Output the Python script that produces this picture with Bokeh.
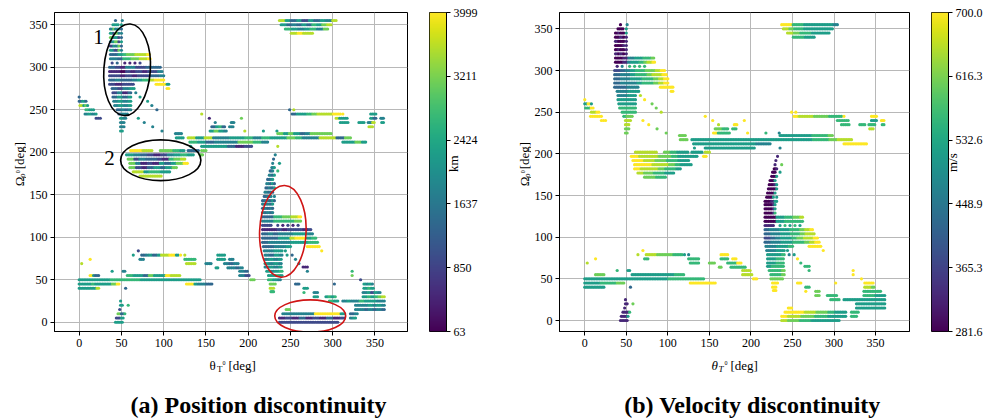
import numpy as np
from bokeh.plotting import figure
from bokeh.models import LinearColorMapper, FixedTicker, Label, Range1d, ColumnDataSource
from bokeh.layouts import row, column
from bokeh.palettes import Viridis256
from bokeh.embed import file_html
from bokeh.resources import INLINE
from bokeh.core.properties import value

# ---------------- data: rows of sampled (theta, Omega) solutions ----------------
# each entry: Omega row [deg], theta start/end [deg], colour levels (0=min .. 9=max)
OMEGA = [
    355, 350, 345, 340,
    355, 355, 350, 350, 345, 345, 340, 340, 335, 335, 330, 330, 325, 325, 320, 320,
    315, 310, 305, 305, 305, 305, 305, 305,
    300, 295, 290, 285, 280, 280, 275, 275, 270, 265, 260, 255, 250, 245, 240, 235, 230, 225,
    270, 265, 260, 255, 250, 240, 235, 230, 225,
    265, 260, 255, 250, 245, 240,
    245, 240, 235, 235, 240, 230, 230, 225, 225, 225, 225,
    250, 250, 245, 245, 245, 240, 240, 240, 235, 235, 235, 235, 230,
    222, 222, 217, 217, 212, 212, 207, 207, 207,
    202, 202, 202, 202, 197, 197, 192, 187, 182, 177, 172,
    197, 192, 187, 187, 182, 178, 178, 173, 168, 163,
    158, 153, 148, 148, 143, 139, 134, 129, 124, 119,
    114, 114, 114, 114, 114, 114,
    109, 104, 99, 94, 89, 89, 84, 84, 84, 79, 79, 79, 74, 74, 69, 69, 65, 65, 60, 60,
    55, 50, 45, 40, 36,
    84, 79, 79, 79, 79, 74, 74, 79, 74, 74,
    69, 69, 69, 64, 64, 60, 55, 50, 69, 74,
    60, 60, 55, 55, 50, 45, 45, 40, 40, 25,
    20, 20, 15, 10, 5, 0,
    45, 40, 35, 35, 30, 30, 25, 25, 45, 50,
    60, 55, 45, 40, 35, 30, 20, 15, 10, 5,
    15, 10, 5, 0,
]
THETA_FROM = [
    237, 239, 244, 251,
    43, 51, 40, 50, 37, 50, 37, 50, 37, 50, 37, 50, 37, 50, 37, 50,
    37, 37, 39, 45, 54, 60, 66, 72,
    36, 36, 36, 36, 36, 91, 39, 104, 40, 40, 41, 42, 45, 47, 49, 49, 49, 49,
    67, 72, 81, 86, 92, 70, 77, 87, 98,
    0, 0, 1, 8, 7, 20,
    145, 154, 161, 180, 192, 157, 178, 155, 196, 218, 234,
    249, 254, 252, 312, 345, 304, 345, 357, 309, 331, 342, 358, 343,
    114, 235, 115, 129, 131, 312, 132, 145, 235,
    61, 96, 129, 145, 56, 143, 58, 60, 60, 64, 72,
    232, 230, 229, 237, 228, 226, 235, 225, 223, 222,
    221, 220, 219, 231, 217, 217, 217, 217, 217, 217,
    217, 235, 241, 247, 253, 259,
    217, 217, 217, 217, 218, 270, 219, 244, 287, 220, 246, 252, 220, 256, 220, 260, 220, 265, 222, 270,
    224, 224, 226, 226, 227,
    70, 64, 74, 120, 125, 72, 125, 164, 164, 178,
    127, 150, 172, 162, 176, 190, 190, 203, 3, 13,
    39, 52, 13, 57, 0, 0, 127, 0, 55, 49,
    49, 58, 48, 46, 44, 43,
    256, 266, 266, 278, 278, 292, 296, 312, 302, 333,
    323, 323, 337, 337, 336, 336, 327, 327, 321, 321,
    245, 241, 237, 237,
]
THETA_TO = [
    304, 298, 294, 276,
    43, 51, 46, 50, 47, 50, 47, 50, 47, 50, 47, 50, 47, 50, 47, 50,
    83, 84, 39, 45, 54, 60, 66, 72,
    96, 98, 100, 100, 64, 106, 65, 106, 61, 61, 61, 61, 61, 57, 55, 53, 53, 51,
    67, 72, 81, 86, 92, 70, 77, 87, 98,
    0, 8, 10, 17, 20, 25,
    145, 154, 161, 183, 192, 172, 182, 174, 196, 218, 234,
    249, 254, 309, 312, 351, 317, 351, 360, 318, 337, 349, 360, 347,
    121, 298, 123, 321, 223, 339, 132, 204, 235,
    86, 124, 141, 150, 135, 146, 125, 128, 115, 107, 97,
    232, 230, 229, 237, 231, 229, 235, 231, 229, 231,
    231, 229, 227, 231, 231, 229, 229, 229, 262, 262,
    227, 235, 241, 247, 253, 259,
    274, 276, 280, 282, 250, 284, 240, 244, 287, 240, 246, 252, 239, 256, 239, 260, 239, 270, 240, 270,
    240, 238, 232, 230, 230,
    70, 64, 117, 120, 125, 76, 137, 172, 172, 182,
    137, 156, 188, 164, 193, 199, 201, 207, 3, 13,
    39, 54, 23, 119, 143, 47, 157, 23, 55, 49,
    51, 58, 48, 54, 52, 51,
    260, 270, 266, 282, 282, 303, 306, 361, 302, 333,
    323, 323, 347, 348, 356, 361, 361, 361, 329, 327,
    249, 314, 314, 306,
]
POS_LEVEL = [
    "8535253548", "5343536578", "6545647", "8988",
    "3", "4", "55", "5", "4745", "3", "5274", "4", "7452", "3", "4572", "5", "2547", "3", "5427", "4",
    "3356778889", "4436677889", "2", "3", "1", "1", "1", "2",
    "3214422333", "1102121224", "2212122334", "3433456899", "2122", "9995", "3245", "9", "2413", "3535",
    "4545", "4545", "3434", "344", "54", "4", "4", "5",
    "4", "5", "5", "4", "3", "5", "4", "4", "4",
    "3", "353", "8575", "6555", "4545", "2",
    "8", "1", "4", "4", "7", "3563", "4", "5754", "8", "5", "5",
    "3", "8", "3556788899", "9", "55", "8555", "53", "4", "5", "5", "48", "5", "8",
    "44", "7575347777", "55", "85844556465576448837", "6534447764", "5575", "5", "555312", "8",
    "9988", "7765", "33", "7", "5432124565", "7", "7243321678", "7412153579", "72135357", "8856655", "8888",
    "4", "3", "4", "5", "45", "34", "6", "435", "345", "4353",
    "3435", "4343", "3434", "4", "344353", "43435", "34343", "43434", "3336677889", "4446666677",
    "2", "2", "1", "2", "1", "2",
    "1112122212", "3434445554", "3335589956", "3444455566", "33445", "99", "4455", "5", "9", "4354",
    "5", "3", "4545", "4", "5454", "4", "4545", "1", "5456", "4",
    "5565", "654", "7", "8", "6",
    "2", "5", "3453588995", "9", "8", "44", "666", "55", "5", "4",
    "88", "4", "434", "5", "4434", "43", "42", "7", "8", "9",
    "5", "4", "9533", "6553755988", "5555666655555555", "5556555579", "9954433", "55558", "3", "5",
    "5", "6", "2", "736", "25", "555",
    "3", "5", "6", "4", "5", "5656", "65", "4544655544", "3", "2",
    "6", "7", "5454", "565", "45254", "565678", "4445454", "4434343", "34", "45",
    "7", "4444499995", "1213121312", "2222222222",
]
VEL_LEVEL = [
    "9966555554", "8766555555", "8766555", "6655",
    "0", "4", "00", "5", "0100", "5", "0010", "1", "1000", "1", "0001", "1", "0100", "1", "1010", "1",
    "0014455667", "0014556789", "1", "4", "6", "6", "6", "6",
    "2345667789", "3445667889", "3445566789", "3444566789", "3344", "9999", "4455", "9", "4455", "5555",
    "5555", "6666", "6666", "677", "88", "8", "7", "7",
    "8", "9", "7", "7", "8", "9", "9", "7", "7",
    "9", "595", "6699", "8899", "9999", "9",
    "9", "9", "8", "9", "9", "7766", "6", "9666", "9", "6", "4",
    "9", "9", "9888777666", "9", "99", "6666", "55", "9", "6", "6", "66", "6", "8",
    "77", "5555556667", "77", "55555555555555566788", "5555555544", "9999", "5", "555555", "4",
    "8888", "7655", "55", "8", "9888776555", "9", "9988776655", "9998887655", "98887665", "8776655", "7766",
    "1", "1", "1", "7", "01", "00", "5", "005", "005", "0015",
    "0005", "0005", "0005", "5", "000155", "00015", "00015", "00016", "0005566778", "0005566666",
    "1", "5", "6", "5", "6", "5",
    "3445566789", "3445566788", "2345567889", "3445566789", "44556", "99", "4455", "5", "9", "5556",
    "4", "5", "5566", "9", "5566", "6", "5666", "6", "6667", "6",
    "6667", "777", "9", "9", "9",
    "9", "8", "8887777666", "5", "4", "66", "666", "99", "6", "9",
    "66", "7", "669", "7", "6666", "88", "88", "9", "8", "9",
    "6", "5", "7777", "5555555566", "5555555555566666", "5555666677", "9999999", "55555", "3", "1",
    "1", "7", "1", "116", "115", "111",
    "9", "6", "9", "7", "7", "6666", "66", "5555555555", "9", "9",
    "9", "9", "99", "887", "66666", "666555", "5555555", "5555555", "66", "66",
    "9", "9998877655", "9887766555", "8776655555",
]

POS_MIN, POS_MAX = 63.0, 3999.0
VEL_MIN, VEL_MAX = 281.6, 700.0
POS_TICKS = [63.0, 850.2, 1637.4, 2424.6, 3211.8, 3999.0]
POS_TICK_LABELS = ["63", "850", "1637", "2424", "3211", "3999"]
VEL_TICKS = [281.6, 365.28, 448.96, 532.64, 616.32, 700.0]
VEL_TICK_LABELS = ["281.6", "365.3", "448.9", "532.6", "616.3", "700.0"]
AXIS_TICKS = [0, 50, 100, 150, 200, 250, 300, 350]

# highlighted regions in the position plot
ELL_X = [56.7, 96.5, 241.0, 273.4]
ELL_Y = [297.0, 190.6, 106.9, 7.3]
ELL_W = [55.0, 95.0, 55.0, 84.0]
ELL_H = [108.0, 48.0, 108.0, 38.0]
ELL_ANGLE = [-0.07, 0.0, -0.04, 0.0]
ELL_COLOR = ["black", "black", "#d01515", "#d01515"]

assert len(OMEGA) == len(THETA_FROM) == len(THETA_TO) == len(POS_LEVEL) == len(VEL_LEVEL)

STEP = 2.0
FONT = "Liberation Serif"
TOP_H = 356      # height of the row holding the panels
BOT_H = 420 - TOP_H
ROT = np.pi / 2


def expand(codes, vmin, vmax):
    xs, ys, vs = [], [], []
    for om, a, b, code in zip(OMEGA, THETA_FROM, THETA_TO, codes):
        n = int(round((b - a) / STEP)) + 1
        ts = np.linspace(a, b, n) if n > 1 else np.array([float(a)])
        for i, t in enumerate(ts):
            lvl = int(code[i * len(code) // n])
            xs.append(float(t))
            ys.append(float(om))
            vs.append(vmin + lvl / 9.0 * (vmax - vmin))
    return xs, ys, vs


def panel(width, xr, yr, bl, br, xs, ys, vs, mapper):
    p = figure(width=width, height=TOP_H, x_range=Range1d(*xr), y_range=Range1d(*yr),
               min_border_left=bl, min_border_right=br, min_border_top=12, min_border_bottom=TOP_H - 331,
               output_backend="svg", toolbar_location=None)
    p.background_fill_color = "white"
    p.border_fill_color = "white"
    p.outline_line_color = "black"
    p.outline_line_alpha = 1.0
    p.outline_line_width = 1
    p.axis.ticker = FixedTicker(ticks=AXIS_TICKS)
    p.axis.axis_line_color = "black"
    p.axis.major_tick_line_color = "black"
    p.axis.major_tick_in = 0
    p.axis.major_tick_out = 4
    p.axis.minor_tick_line_color = None
    p.axis.major_label_text_font = FONT
    p.axis.major_label_text_font_size = "12px"
    p.axis.major_label_text_color = "black"
    p.axis.major_label_standoff = 3
    p.grid.grid_line_color = "#b8b8b8"
    p.grid.grid_line_width = 1
    src = ColumnDataSource(dict(x=xs, y=ys, v=vs))
    p.scatter("x", "y", source=src, marker="circle", size=3.2, line_color=None,
              fill_color={"field": "v", "transform": mapper})
    return p


def cbar(vmin, vmax, ticks, labels, mapper, width, bl, br, unit, unit_standoff):
    c = figure(width=width, height=TOP_H, x_range=Range1d(0, 1), y_range=Range1d(vmin, vmax),
               min_border_left=bl, min_border_right=br, min_border_top=12, min_border_bottom=TOP_H - 331,
               x_axis_location=None, y_axis_location="right",
               output_backend="svg", toolbar_location=None)
    grad = np.linspace(vmin, vmax, 256).reshape(256, 1)
    c.image(image=[grad], x=0, y=vmin, dw=1, dh=vmax - vmin, color_mapper=mapper)
    c.grid.visible = False
    c.outline_line_color = "black"
    c.outline_line_alpha = 1.0
    ax = c.yaxis[0]
    ax.ticker = FixedTicker(ticks=ticks)
    ax.major_label_overrides = {t: l for t, l in zip(ticks, labels)}
    ax.axis_line_color = "black"
    ax.major_tick_in = 0
    ax.major_tick_out = 4
    ax.minor_tick_line_color = None
    ax.major_label_text_font = FONT
    ax.major_label_text_font_size = "12px"
    ax.major_label_text_color = "black"
    ax.major_label_standoff = 3
    ax.axis_label = unit
    ax.axis_label_text_font = FONT
    ax.axis_label_text_font_size = "13px"
    ax.axis_label_text_font_style = "normal"
    ax.axis_label_text_color = "black"
    ax.axis_label_standoff = unit_standoff
    if "axis_label_orientation" in ax.properties():
        ax.axis_label_orientation = ROT
    return c


def strip(width, height):
    s = figure(width=width, height=height, x_range=Range1d(0, width), y_range=Range1d(0, height),
               min_border=0, x_axis_location=None, y_axis_location=None,
               output_backend="svg", toolbar_location=None)
    s.outline_line_color = None
    s.grid.visible = False
    s.background_fill_color = "white"
    s.border_fill_color = "white"
    return s


def txt(f, x, y, s, size, style="normal", angle=0.0, align="left", baseline="alphabetic"):
    f.text(x=[x], y=[y], text=[s], text_font=value(FONT), text_font_size=size,
           text_font_style=style, angle=angle, text_align=align, text_baseline=baseline,
           text_color="black")


def ylabel(s, bx):
    # Omega_{rho^0} [deg], reading bottom to top; bx = baseline x inside the strip
    txt(s, bx, TOP_H - 194, "Ω", "13px", angle=ROT)
    txt(s, bx + 3, TOP_H - 184.5, "ρ", "9px", style="italic", angle=ROT)
    txt(s, bx - 1.5, TOP_H - 179.5, "0", "6px", angle=ROT)
    txt(s, bx, TOP_H - 175, "[deg]", "13px", angle=ROT)


pos_mapper = LinearColorMapper(palette=Viridis256, low=POS_MIN, high=POS_MAX)
vel_mapper = LinearColorMapper(palette=Viridis256, low=VEL_MIN, high=VEL_MAX)

# ---------------- (a) position ----------------
XR1, YR1 = (-29.2, 388.5), (-10.9, 364.4)
x1, y1, v1 = expand(POS_LEVEL, POS_MIN, POS_MAX)
p1 = panel(394, XR1, YR1, 26, 13, x1, y1, v1, pos_mapper)
p1.ellipse(x=ELL_X, y=ELL_Y, width=ELL_W, height=ELL_H, angle=ELL_ANGLE,
           fill_color=None, line_color=ELL_COLOR, line_width=1.6)
p1.add_layout(Label(x=23.0, y=335.0, text="1", text_font=FONT, text_font_size="21px",
                    text_color="black", text_align="center", text_baseline="middle"))
p1.add_layout(Label(x=36.0, y=193.0, text="2", text_font=FONT, text_font_size="21px",
                    text_color="black", text_align="center", text_baseline="middle"))
c1 = cbar(POS_MIN, POS_MAX, POS_TICKS, POS_TICK_LABELS, pos_mapper, 80, 9, 54, "km", -27)

s1 = strip(26, TOP_H)
ylabel(s1, 18.5)

# ---------------- (b) velocity ----------------
XR2, YR2 = (-30.4, 390.8), (-13.2, 369.6)
x2, y2, v2 = expand(VEL_LEVEL, VEL_MIN, VEL_MAX)
p2 = panel(389, XR2, YR2, 27, 11, x2, y2, v2, vel_mapper)
c2 = cbar(VEL_MIN, VEL_MAX, VEL_TICKS, VEL_TICK_LABELS, vel_mapper, 79, 11, 51, "m/s", -33)

s2 = strip(31, TOP_H)
ylabel(s2, 23.5)

# ---------------- bottom strip: x labels and sub-captions ----------------
sb = strip(999, BOT_H)


def by(py):
    return 420 - py


txt(sb, 209, by(365), "θ", "13px")
txt(sb, 216.5, by(368), "T", "9px")
txt(sb, 222, by(362.5), "0", "6px")
txt(sb, 228, by(365), "[deg]", "13px")
txt(sb, 711, by(365), "θ", "13px", style="italic")
txt(sb, 718, by(368), "T", "9px", style="italic")
txt(sb, 724, by(362.5), "0", "6px")
txt(sb, 730, by(365), "[deg]", "13px")
txt(sb, 258, by(404), "(a) Position discontinuity", "24px", style="bold", align="center", baseline="middle")
txt(sb, 752, by(404), "(b) Velocity discontinuity", "24px", style="bold", align="center", baseline="middle")

layout = column(row(s1, p1, c1, s2, p2, c2), sb)
open("out.html", "w").write(file_html(layout, INLINE))
